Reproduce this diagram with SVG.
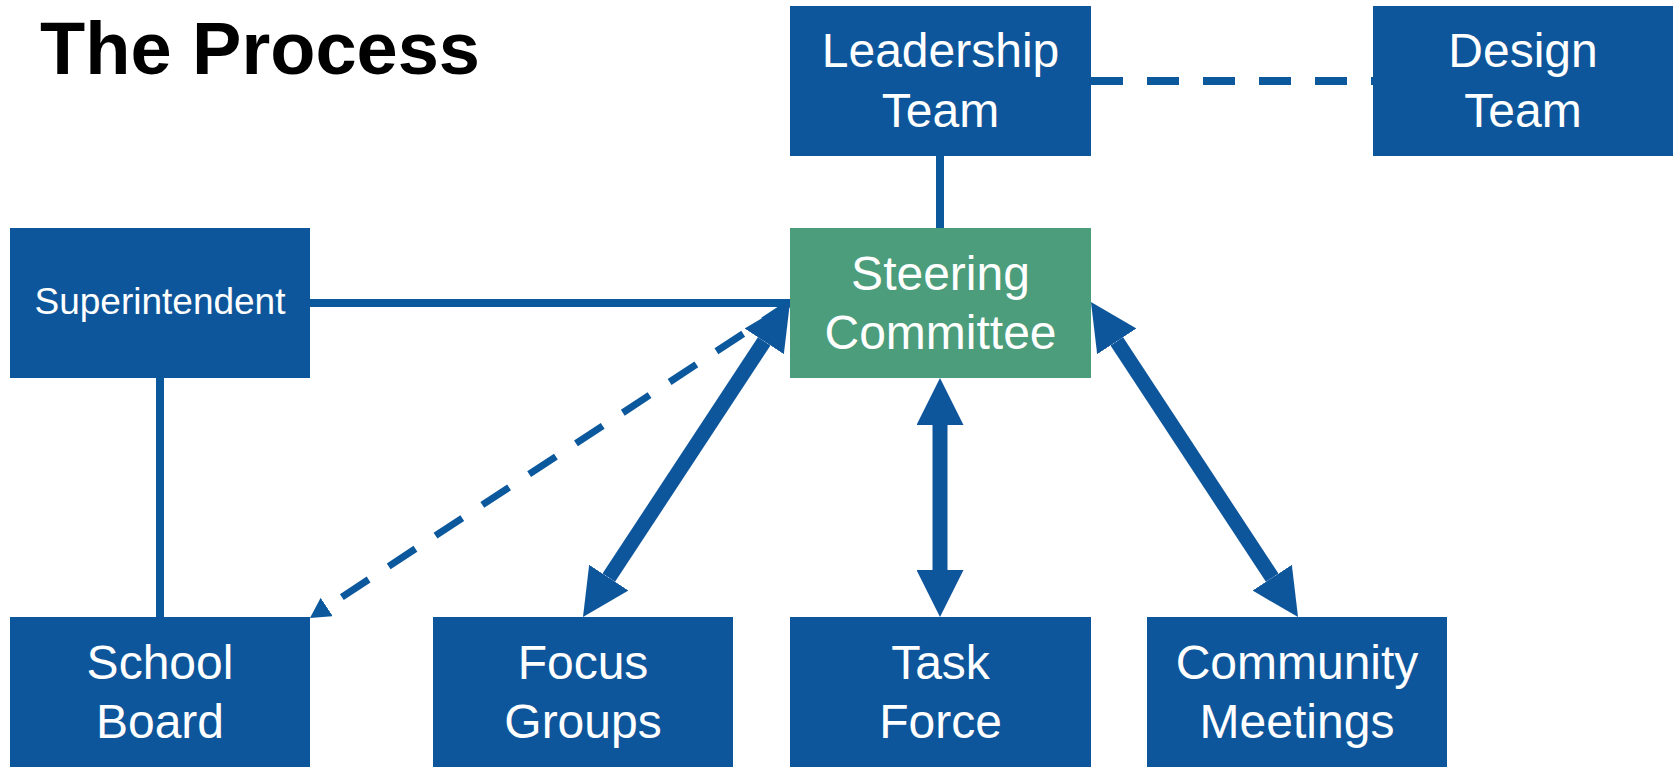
<svg xmlns="http://www.w3.org/2000/svg" width="1678" height="767" viewBox="0 0 1678 767">
<style>
.box{fill:#0E569B}
.green{fill:#4B9D7B}
.t{fill:#ffffff;font-family:"Liberation Sans",Arial,sans-serif;font-size:48px;text-anchor:middle}
.ts{font-size:37px}
.title{fill:#000000;font-family:"Liberation Sans",Arial,sans-serif;font-size:74px;font-weight:bold}
.ln{stroke:#0B589D;stroke-width:8;fill:none}
.dash{stroke:#0B589D;stroke-width:8;fill:none;stroke-dasharray:32 24}
.dash2{stroke:#0B589D;stroke-width:7;fill:none;stroke-dasharray:32 24}
.thick{stroke:#0E569B;stroke-width:15;fill:none}
</style>
<defs>
<marker id="big" markerUnits="userSpaceOnUse" markerWidth="47" markerHeight="47" refX="0" refY="23.5" orient="auto-start-reverse" viewBox="0 0 47 47">
<path d="M0,0 L47,23.5 L0,47 z" fill="#0E569B"/>
</marker>
<marker id="small" markerUnits="userSpaceOnUse" markerWidth="20" markerHeight="22" refX="0" refY="11" orient="auto" viewBox="0 0 20 22">
<path d="M0,0 L20,11 L0,22 z" fill="#0B589D"/>
</marker>
</defs>
<rect width="1678" height="767" fill="#ffffff"/>
<text class="title" x="40" y="74" textLength="440">The Process</text>
<g id="connectors">
<line class="dash" x1="1091" y1="81" x2="1373" y2="81"/>
<line class="ln" x1="940" y1="156" x2="940" y2="228"/>
<line class="ln" x1="310" y1="303" x2="790" y2="303"/>
<line class="ln" x1="160" y1="378" x2="160" y2="617"/>
<line class="dash2" x1="790" y1="303" x2="326.7" y2="607" marker-end="url(#small)"/>
<line class="thick" x1="764.2" y1="341.3" x2="608.8" y2="577.7" marker-start="url(#big)" marker-end="url(#big)"/>
<line class="thick" x1="940" y1="425" x2="940" y2="570" marker-start="url(#big)" marker-end="url(#big)"/>
<line class="thick" x1="1116.8" y1="341.3" x2="1272.2" y2="577.7" marker-start="url(#big)" marker-end="url(#big)"/>
</g>
<g id="leadership">
<rect class="box" x="790" y="6" width="301" height="150"/>
<text class="t" x="940.5" y="67">Leadership</text>
<text class="t" x="940.5" y="127">Team</text>
</g>
<g id="design">
<rect class="box" x="1373" y="6" width="300" height="150"/>
<text class="t" x="1523" y="67">Design</text>
<text class="t" x="1523" y="127">Team</text>
</g>
<g id="superintendent">
<rect class="box" x="10" y="228" width="300" height="150"/>
<text class="t ts" x="160" y="314">Superintendent</text>
</g>
<g id="steering">
<rect class="green" x="790" y="228" width="301" height="150"/>
<text class="t" x="940.5" y="290">Steering</text>
<text class="t" x="940.5" y="349">Committee</text>
</g>
<g id="school-board">
<rect class="box" x="10" y="617" width="300" height="150"/>
<text class="t" x="160" y="679">School</text>
<text class="t" x="160" y="738">Board</text>
</g>
<g id="focus-groups">
<rect class="box" x="433" y="617" width="300" height="150"/>
<text class="t" x="583" y="679">Focus</text>
<text class="t" x="583" y="738">Groups</text>
</g>
<g id="task-force">
<rect class="box" x="790" y="617" width="301" height="150"/>
<text class="t" x="940.5" y="679">Task</text>
<text class="t" x="940.5" y="738">Force</text>
</g>
<g id="community">
<rect class="box" x="1147" y="617" width="300" height="150"/>
<text class="t" x="1297" y="679">Community</text>
<text class="t" x="1297" y="738">Meetings</text>
</g>
</svg>
